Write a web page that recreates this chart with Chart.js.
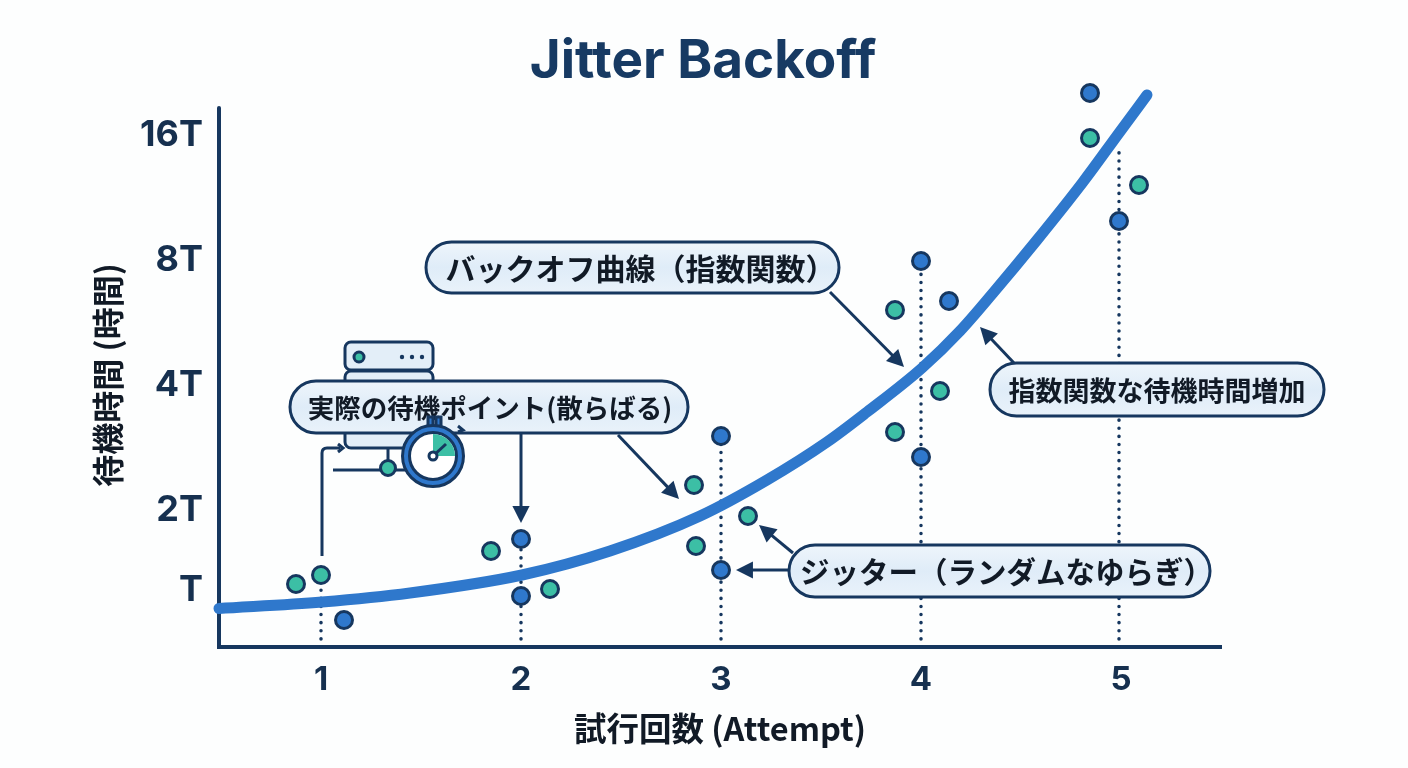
<!DOCTYPE html>
<html lang="ja">
<head>
<meta charset="utf-8">
<title>Jitter Backoff</title>
<script src="https://cdn.jsdelivr.net/npm/chart.js@4"></script>
<style>
    html, body { margin: 0; padding: 0; background: #fdfefe; }
    canvas { display: block; }
</style>
</head>
<body>
<canvas id="graficoJitter" width="1408" height="768"></canvas>
<script>
// Dados (eixo y em "níveis": 2T = 1, 4T = 2, 8T = 3, 16T = 4)
const xTicks = [1, 2, 3, 4, 5];
const yTicks = [0.344, 0.984, 1.984, 2.984, 3.984];
const yTickLabels = ['T', '2T', '4T', '8T', '16T'];

const curvaX = [0.49, 1.005, 1.445, 2.005, 2.445, 2.895, 3.23, 3.53, 3.73, 4.005, 4.195, 4.36, 4.58, 4.81, 4.99, 5.13];
const curvaY = [0.196, 0.248, 0.32, 0.464, 0.656, 0.936, 1.224, 1.528, 1.768, 2.12, 2.416, 2.72, 3.144, 3.608, 4, 4.304];

const azulX = [1.115, 2, 2, 3, 3, 4, 4.14, 4, 4.845, 4.99];
const azulY = [0.104, 0.752, 0.296, 1.576, 0.504, 2.976, 2.656, 1.408, 4.32, 3.296];

const verdeX = [0.875, 1, 1.85, 2.145, 2.865, 2.875, 3.135, 3.87, 3.87, 4.095, 4.845, 5.09];
const verdeY = [0.392, 0.464, 0.656, 0.352, 1.184, 0.696, 0.936, 2.584, 1.608, 1.936, 3.96, 3.584];

// Linhas pontilhadas verticais: posição e topo de cada uma
const guiaX = [1, 2, 3, 4, 4.99];
const guiaTopo = [0.46, 0.75, 1.576, 2.976, 3.86];

const yMin = -0.112;
const yMax = 4.424;
const yEixoTopo = 4.2;
const xMin = 0.49;
const xMax = 5.5;

const corEscura = '#16375f';
const corTexto = '#16304f';
const corAzul = '#2f78cc';
const corVerde = '#3cbfa5';
const fonte = 'Inter, "Noto Sans CJK JP", sans-serif';
const fonteJp = '"Noto Sans CJK JP", Inter, sans-serif';

function juntar(xs, ys) {
    return xs.map(function (x, i) { return { x: x, y: ys[i] }; });
}

// Caixa arredondada com texto (desvio compensa o vazio dos parênteses largos)
function desenharPilula(ctx, x, y, w, h, texto, tamanho, desvio) {
    let grad = ctx.createLinearGradient(0, y, 0, y + h);
    grad.addColorStop(0, '#eef5fb');
    grad.addColorStop(0.5, '#dfecf8');
    grad.addColorStop(1, '#e9f2fa');
    ctx.beginPath();
    ctx.roundRect(x, y, w, h, h / 2);
    ctx.fillStyle = grad;
    ctx.fill();
    ctx.lineWidth = 3;
    ctx.strokeStyle = corEscura;
    ctx.stroke();
    ctx.fillStyle = '#111a26';
    ctx.font = '700 ' + tamanho + 'px ' + fonteJp;
    ctx.textAlign = 'center';
    ctx.textBaseline = 'middle';
    ctx.fillText(texto, x + w / 2 + desvio, y + h / 2 + 1);
}

function desenharSeta(ctx, x1, y1, x2, y2) {
    const ang = Math.atan2(y2 - y1, x2 - x1);
    const tam = 19;
    ctx.strokeStyle = corEscura;
    ctx.fillStyle = corEscura;
    ctx.lineWidth = 3;
    ctx.beginPath();
    ctx.moveTo(x1, y1);
    ctx.lineTo(x2 - Math.cos(ang) * tam * 0.7, y2 - Math.sin(ang) * tam * 0.7);
    ctx.stroke();
    ctx.beginPath();
    ctx.moveTo(x2, y2);
    ctx.lineTo(x2 - tam * Math.cos(ang - 0.47), y2 - tam * Math.sin(ang - 0.47));
    ctx.lineTo(x2 - tam * Math.cos(ang + 0.47), y2 - tam * Math.sin(ang + 0.47));
    ctx.closePath();
    ctx.fill();
}

// Ícone do servidor (fica atrás da caixa)
function desenharServidor(ctx) {
    ctx.lineWidth = 3;
    ctx.strokeStyle = corEscura;
    ctx.fillStyle = '#e3eef8';
    [[345, 342, 88, 28], [345, 371, 88, 30], [345, 402, 88, 46]].forEach(function (b) {
        ctx.beginPath();
        ctx.roundRect(b[0], b[1], b[2], b[3], 6);
        ctx.fill();
        ctx.stroke();
    });
    ctx.beginPath();
    ctx.arc(359, 357, 5, 0, Math.PI * 2);
    ctx.fillStyle = corVerde;
    ctx.fill();
    ctx.stroke();
    ctx.fillStyle = corEscura;
    [402, 412, 422].forEach(function (x) {
        ctx.beginPath();
        ctx.arc(x, 357, 2.2, 0, Math.PI * 2);
        ctx.fill();
    });
    ctx.beginPath();
    ctx.moveTo(388, 448);
    ctx.lineTo(388, 468);
    ctx.moveTo(333, 470);
    ctx.lineTo(410, 470);
    ctx.stroke();
    ctx.beginPath();
    ctx.arc(388, 468, 7.5, 0, Math.PI * 2);
    ctx.fillStyle = corVerde;
    ctx.fill();
    ctx.stroke();
}

// Cronômetro (fica na frente da caixa)
function desenharCronometro(ctx) {
    const cx = 433, cy = 456;
    ctx.strokeStyle = corEscura;
    ctx.lineWidth = 3;
    ctx.fillStyle = corAzul;
    [428, 436].forEach(function (x) {
        ctx.beginPath();
        ctx.rect(x, 417, 5, 10);
        ctx.fill();
        ctx.stroke();
    });
    ctx.beginPath();
    ctx.moveTo(458, 426);
    ctx.lineTo(463, 430);
    ctx.lineTo(458, 432);
    ctx.stroke();
    ctx.beginPath();
    ctx.arc(cx, cy, 30.5, 0, Math.PI * 2);
    ctx.fillStyle = corAzul;
    ctx.fill();
    ctx.stroke();
    ctx.beginPath();
    ctx.arc(cx, cy, 23.5, 0, Math.PI * 2);
    ctx.fillStyle = '#ffffff';
    ctx.fill();
    ctx.stroke();
    ctx.beginPath();
    ctx.moveTo(cx, cy);
    ctx.arc(cx, cy, 22, -Math.PI / 2, 0);
    ctx.closePath();
    ctx.fillStyle = corVerde;
    ctx.fill();
    ctx.beginPath();
    ctx.moveTo(cx, cy);
    ctx.lineTo(cx + 13, cy - 12);
    ctx.stroke();
    ctx.beginPath();
    ctx.arc(cx, cy, 4, 0, Math.PI * 2);
    ctx.fillStyle = '#ffffff';
    ctx.fill();
    ctx.stroke();
}

// Título e anotações desenhados por cima do gráfico
const pluginAnotacoes = {
    id: 'anotacoes',
    afterDatasetsDraw: function (chart) {
        const ctx = chart.ctx;
        ctx.save();

        ctx.fillStyle = '#173a63';
        ctx.font = '700 53px ' + fonte;
        ctx.textAlign = 'center';
        ctx.textBaseline = 'middle';
        ctx.fillText('Jitter Backoff', 703, 62);

        // título do eixo y, centrado na parte visível do eixo
        ctx.save();
        ctx.translate(108, 375);
        ctx.rotate(-Math.PI / 2);
        ctx.fillStyle = '#111a26';
        ctx.font = '700 32px ' + fonteJp;
        ctx.fillText('待機時間 (時間)', 0, 0);
        ctx.restore();

        desenharServidor(ctx);

        // seta em cotovelo que sai do ponto 1
        ctx.strokeStyle = corEscura;
        ctx.lineWidth = 3;
        ctx.beginPath();
        ctx.moveTo(322, 556);
        ctx.lineTo(322, 453);
        ctx.quadraticCurveTo(322, 448, 327, 448);
        ctx.lineTo(340, 448);
        ctx.stroke();
        ctx.beginPath();
        ctx.moveTo(338, 444);
        ctx.lineTo(343, 448);
        ctx.lineTo(338, 452);
        ctx.stroke();

        desenharSeta(ctx, 830, 292, 904, 367);
        desenharSeta(ctx, 1014, 363, 980, 327);
        desenharSeta(ctx, 521, 433, 521, 523);
        desenharSeta(ctx, 618, 435, 679, 499);
        desenharSeta(ctx, 790, 570, 736, 570);
        desenharSeta(ctx, 793, 553, 759, 525);

        desenharPilula(ctx, 426, 242, 413, 51, 'バックオフ曲線（指数関数）', 30, 8);
        desenharPilula(ctx, 290, 381, 398, 52, '実際の待機ポイント(散らばる)', 26.5, 1);
        desenharPilula(ctx, 990, 363, 334, 53, '指数関数な待機時間増加', 27, 0);
        desenharPilula(ctx, 789, 545, 421, 52, 'ジッター（ランダムなゆらぎ）', 29.5, 7);

        desenharCronometro(ctx);
        ctx.restore();
    }
};

function plotarGrafico() {
    const guias = guiaX.map(function (x, i) {
        return {
            type: 'line',
            data: [{ x: x, y: yMin }, { x: x, y: guiaTopo[i] }],
            borderColor: corEscura,
            borderWidth: 3.5,
            borderDash: [0.1, 8],
            borderCapStyle: 'round',
            pointRadius: 0,
            order: 5
        };
    });

    const config = {
        type: 'scatter',
        data: {
            datasets: guias.concat([
                {
                    // eixo y como linha própria, para parar abaixo do último ponto
                    type: 'line',
                    data: [{ x: xMin, y: yMin }, { x: xMin, y: yEixoTopo }],
                    borderColor: corEscura,
                    borderWidth: 4,
                    borderCapStyle: 'round',
                    pointRadius: 0,
                    clip: false,
                    order: 4
                },
                {
                    type: 'line',
                    data: juntar(curvaX, curvaY),
                    borderColor: corAzul,
                    borderWidth: 11,
                    borderCapStyle: 'round',
                    cubicInterpolationMode: 'monotone',
                    pointRadius: 0,
                    clip: false,
                    order: 3
                },
                {
                    data: juntar(azulX, azulY),
                    backgroundColor: corAzul,
                    borderColor: corEscura,
                    borderWidth: 3,
                    pointRadius: 8.5,
                    clip: false,
                    order: 1
                },
                {
                    data: juntar(verdeX, verdeY),
                    backgroundColor: corVerde,
                    borderColor: corEscura,
                    borderWidth: 3,
                    pointRadius: 8.5,
                    clip: false,
                    order: 1
                }
            ])
        },
        options: {
            responsive: false,
            animation: false,
            layout: { padding: { top: 80, right: 187 } },
            plugins: {
                legend: { display: false },
                tooltip: { enabled: false }
            },
            scales: {
                x: {
                    type: 'linear',
                    min: xMin,
                    max: xMax,
                    afterFit: function (axis) { axis.height = 121; },
                    afterBuildTicks: function (axis) {
                        axis.ticks = xTicks.map(function (v) { return { value: v }; });
                    },
                    grid: { display: false, drawTicks: false },
                    border: { color: corEscura, width: 4 },
                    ticks: {
                        color: corTexto,
                        padding: 13,
                        maxRotation: 0,
                        font: { family: fonte, size: 33, weight: '700' }
                    },
                    title: {
                        display: true,
                        text: '試行回数 (Attempt)',
                        color: '#111a26',
                        font: { family: fonteJp, size: 32.5, weight: '700' },
                        padding: { top: 0, bottom: 20 }
                    }
                },
                y: {
                    type: 'linear',
                    min: yMin,
                    max: yMax,
                    afterFit: function (axis) { axis.width = 219; },
                    afterBuildTicks: function (axis) {
                        axis.ticks = yTicks.map(function (v) { return { value: v }; });
                    },
                    grid: { display: false, drawTicks: false },
                    border: { display: false },
                    ticks: {
                        color: corTexto,
                        padding: 16,
                        autoSkip: false,
                        font: { family: fonte, size: 36, weight: '700' },
                        callback: function (valor, indice) { return yTickLabels[indice]; }
                    }
                }
            }
        },
        plugins: [pluginAnotacoes]
    };

    new Chart(document.getElementById('graficoJitter'), config);
}

plotarGrafico();
</script>
</body>
</html>
